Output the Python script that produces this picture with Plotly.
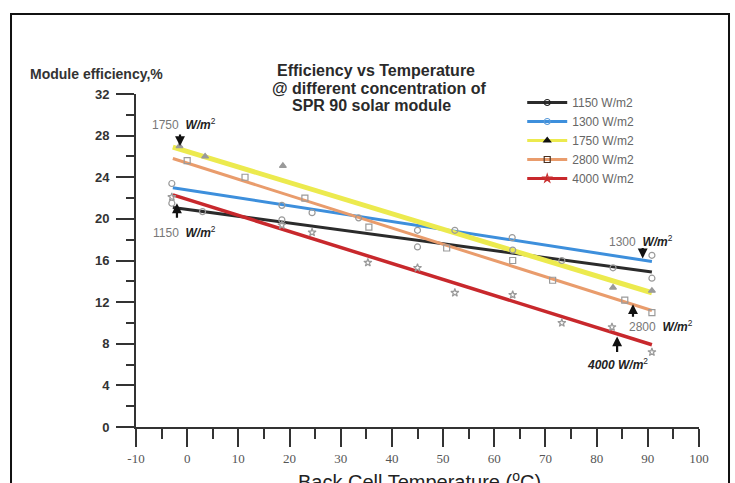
import plotly.graph_objects as go

# ---------------- data ----------------
series_names = ["1150 W/m2", "1300 W/m2", "1750 W/m2", "2800 W/m2", "4000 W/m2"]

temp_1150 = [-3, 3, 18.5, 45, 63.6, 73.2, 83.2, 90.8]
eff_1150 = [21.5, 20.7, 19.9, 17.3, 17.0, 16.0, 15.3, 14.3]

temp_1300 = [-3, 18.5, 24.4, 33.5, 45, 52.3, 63.5, 90.8]
eff_1300 = [23.4, 21.3, 20.6, 20.1, 18.9, 18.9, 18.2, 16.5]

temp_1750 = [-1.5, 3.5, 18.7, 83.2, 90.8]
eff_1750 = [27.0, 26.0, 25.1, 13.4, 13.1]

temp_2800 = [0, 11.3, 23, 35.5, 50.7, 63.6, 71.4, 85.5, 90.8]
eff_2800 = [25.6, 24.0, 22.0, 19.2, 17.2, 16.0, 14.1, 12.2, 11.0]

temp_4000 = [-3, 18.5, 24.4, 35.3, 45, 52.3, 63.6, 73.2, 83, 90.8]
eff_4000 = [22.1, 19.4, 18.7, 15.8, 15.3, 12.9, 12.7, 10.0, 9.6, 7.2]

# linear trend lines (start / end values)
trend_temp = [-2.8, 90.8]
trend_1150 = [21.1, 14.9]
trend_1300 = [23.0, 15.9]
trend_1750 = [26.9, 12.9]
trend_2800 = [25.8, 11.2]
trend_4000 = [22.3, 7.9]

x_ticks = list(range(-10, 101, 10))
x_tick_labels = [str(v) for v in x_ticks]
y_ticks = list(range(0, 33, 4))

# ---------------- styles ----------------
line_colors = ["#2b2b2b", "#3d8fdc", "#ecea4e", "#e99c6c", "#c8282c"]
line_widths = [3, 3, 5, 3, 3.5]
legend_marker_colors = ["#222222", "#5a9ad8", "#111111", "#4a3020", "#c83030"]
symbols = ["circle-open", "circle-open", "triangle-up", "square-open", "star-open"]
point_color = "#9a9a9a"

temps = [temp_1150, temp_1300, temp_1750, temp_2800, temp_4000]
effs = [eff_1150, eff_1300, eff_1750, eff_2800, eff_4000]
trends = [trend_1150, trend_1300, trend_1750, trend_2800, trend_4000]

fig = go.Figure()

# trend lines
for name, tr, col, lw in zip(series_names, trends, line_colors, line_widths):
    fig.add_trace(go.Scatter(x=trend_temp, y=tr, mode="lines",
                             line=dict(color=col, width=lw),
                             showlegend=False, hoverinfo="skip"))

# measured points (gaps between points so no connecting lines; legend shows line + marker)
for name, tx, ey, col, lw, sym, mcol in zip(series_names, temps, effs, line_colors,
                                             line_widths, symbols, legend_marker_colors):
    xs, ys, cs = [None], [None], [mcol]
    for a, b in zip(tx, ey):
        xs += [a, None]
        ys += [b, None]
        cs += [point_color, point_color]
    fig.add_trace(go.Scatter(x=xs, y=ys, mode="lines+markers", name=name,
                             connectgaps=False,
                             line=dict(color=col, width=min(lw, 3)),
                             marker=dict(symbol=sym, size=6, color=cs,
                                         line=dict(width=1.2, color=cs))))

axis_common = dict(showline=True, linecolor="#333", linewidth=2,
                   ticks="outside", tickcolor="#333", tickwidth=2,
                   showgrid=False, zeroline=False)

fig.update_xaxes(range=[-10, 100], tickvals=x_ticks, ticktext=x_tick_labels, ticklen=18,
                 minor=dict(dtick=5, tick0=-5, ticklen=10, tickwidth=2,
                            tickcolor="#333", ticks="outside", showgrid=False),
                 tickfont=dict(family="Liberation Serif", size=13, color="#555"),
                 **axis_common)
fig.update_yaxes(range=[0, 32], tickvals=y_ticks, ticklen=18,
                 minor=dict(dtick=2, tick0=0, ticklen=8, tickwidth=2,
                            tickcolor="#333", ticks="outside", showgrid=False),
                 tickfont=dict(family="Liberation Sans", size=13, color="#333", weight="bold"),
                 ticklabelstandoff=4,
                 **axis_common)

ann = []
# title lines
for txt, xp, yp in [("Efficiency vs Temperature", 0.426, 1.072),
                    ("@ different concentration of", 0.432, 1.018),
                    ("SPR 90 solar module", 0.419, 0.964)]:
    ann.append(dict(text="<b>" + txt + "</b>", x=xp, y=yp, xref="paper", yref="paper",
                    showarrow=False, xanchor="center", yanchor="middle",
                    font=dict(family="Liberation Sans", size=16, color="#2a2a2a")))
# y axis label
ann.append(dict(text="<b>Module efficiency,%</b>", x=-0.071, y=1.060, xref="paper", yref="paper",
                showarrow=False, xanchor="center", yanchor="middle",
                font=dict(family="Liberation Sans", size=14, color="#333")))
# x axis label
ann.append(dict(text="Back Cell Temperature (<sup>o</sup>C)", x=0.504, y=-0.162, xref="paper", yref="paper",
                showarrow=False, xanchor="center", yanchor="middle",
                font=dict(family="Liberation Sans", size=20, color="#222")))

# curve labels
lab_font = dict(family="Liberation Sans", size=12, color="#222")
gray = "<span style='color:#777'>%s</span>"
for txt, xd, yd in [((gray % "1750") + "  <b><i>W/m</i></b><sup>2</sup>", -0.6, 29.1),
                    ((gray % "1150") + "  <b><i>W/m</i></b><sup>2</sup>", -0.6, 18.7),
                    ((gray % "1300") + "  <b><i>W/m</i></b><sup>2</sup>", 88.6, 17.9),
                    ((gray % "2800") + "  <b><i>W/m</i></b><sup>2</sup>", 92.5, 9.7),
                    ("<b><i>4000 W/m</i></b><sup>2</sup>", 84.0, 6.1)]:
    ann.append(dict(text=txt, x=xd, y=yd, showarrow=False, xanchor="center",
                    yanchor="middle", font=lab_font))

# arrows
for xd, yd, ay in [(-1.4, 27.0, -13), (-2.0, 21.5, 16), (89.0, 16.2, -12),
                   (87.1, 11.8, 14), (84.0, 8.7, 17)]:
    ann.append(dict(text="", x=xd, y=yd, ax=0, ay=ay, showarrow=True,
                    arrowhead=2, arrowsize=0.9, arrowwidth=2.2, arrowcolor="#111"))

fig.update_layout(
    width=735, height=483,
    margin=dict(l=136, r=36, t=94, b=56),
    paper_bgcolor="white", plot_bgcolor="white",
    annotations=ann,
    showlegend=True,
    legend=dict(x=0.686, y=1.018, xanchor="left", yanchor="top",
                bgcolor="rgba(0,0,0,0)",
                font=dict(family="Liberation Sans", size=12, color="#666"),
                tracegroupgap=0, itemwidth=40),
    shapes=[dict(type="rect", xref="paper", yref="paper",
                 x0=-0.222, x1=1.0533, y0=-0.21, y1=1.2402,
                 line=dict(color="#111", width=2))],
)

fig.write_html("out.html")
